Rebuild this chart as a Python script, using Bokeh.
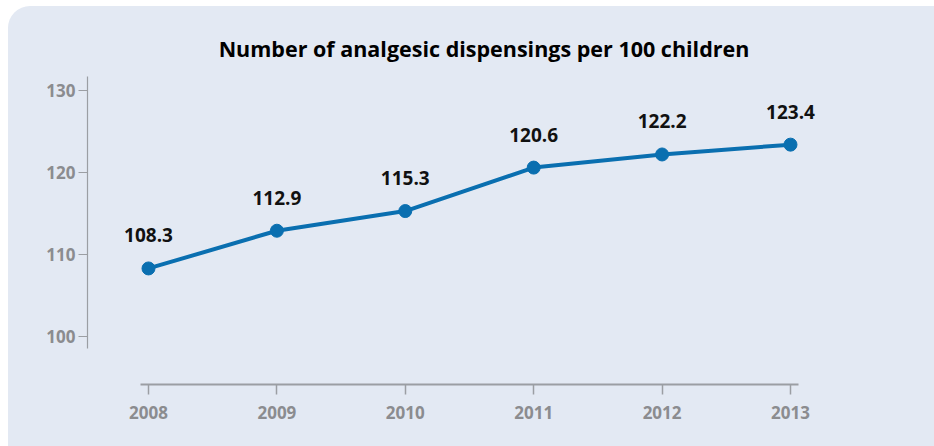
from bokeh.plotting import figure
from bokeh.models import ColumnDataSource, Range1d, FixedTicker
from bokeh.embed import file_html
from bokeh.resources import INLINE
from bokeh.core.properties import value

years = [2008, 2009, 2010, 2011, 2012, 2013]
dispensings = [108.3, 112.9, 115.3, 120.6, 122.2, 123.4]
labels = ["108.3", "112.9", "115.3", "120.6", "122.2", "123.4"]
y_ticks = [100, 110, 120, 130]
title_text = "Number of analgesic dispensings per 100 children"

BG = "#e3e9f3"
BLUE = "#0a6fb0"
GRAY_AX = "#9b9ea3"
GRAY_TXT = "#8b8c8f"
FONT = "Open Sans"

src = ColumnDataSource(dict(x=years, y=dispensings, t=labels))

p = figure(width=926, height=440, output_backend="svg", toolbar_location=None,
           x_range=Range1d(2007.525, 2013.701), y_range=Range1d(94.146, 131.71),
           min_border_left=79, min_border_right=54, min_border_top=70, min_border_bottom=62)
p.margin = (6, 0, 0, 8)
p.background_fill_color = None
p.border_fill_color = None
p.outline_line_color = None
p.xgrid.visible = False
p.ygrid.visible = False
p.styles = {"border-radius": "22px 0 0 0", "overflow": "hidden", "background-color": BG}

p.title.text = title_text
p.title.align = "center"
p.title.text_font = FONT
p.title.text_font_style = "bold"
p.title.text_font_size = "21.5px"
p.title.text_color = "#000000"
p.title.standoff = 28

p.line("x", "y", source=src, line_color=BLUE, line_width=4)
p.scatter("x", "y", source=src, size=13, fill_color=BLUE, line_color=BLUE)
p.text("x", "y", text="t", source=src, text_align="center", text_baseline="middle",
       y_offset=-33, text_font=value(FONT), text_font_style="bold",
       text_font_size="19px", text_color="#111111")

xa = p.xaxis[0]
xa.ticker = FixedTicker(ticks=years)
xa.bounds = (2007.94, 2013.06)
xa.axis_line_color = GRAY_AX
xa.axis_line_width = 2
xa.major_tick_line_color = GRAY_AX
xa.major_tick_line_width = 1.5
xa.major_tick_out = 10
xa.major_tick_in = 0
xa.minor_tick_line_color = None
xa.major_label_standoff = 11
xa.major_label_text_font = FONT
xa.major_label_text_font_style = "bold"
xa.major_label_text_font_size = "17px"
xa.major_label_text_color = GRAY_TXT

ya = p.yaxis[0]
ya.ticker = FixedTicker(ticks=y_ticks)
ya.bounds = (98.54, 131.71)
ya.axis_line_color = GRAY_AX
ya.axis_line_width = 1.2
ya.major_tick_line_color = GRAY_AX
ya.major_tick_line_width = 1.2
ya.major_tick_out = 9
ya.major_tick_in = 0
ya.minor_tick_line_color = None
ya.major_label_standoff = 3
ya.major_label_text_font = FONT
ya.major_label_text_font_style = "bold"
ya.major_label_text_font_size = "17px"
ya.major_label_text_color = GRAY_TXT

open("out.html", "w").write(file_html(p, INLINE))
